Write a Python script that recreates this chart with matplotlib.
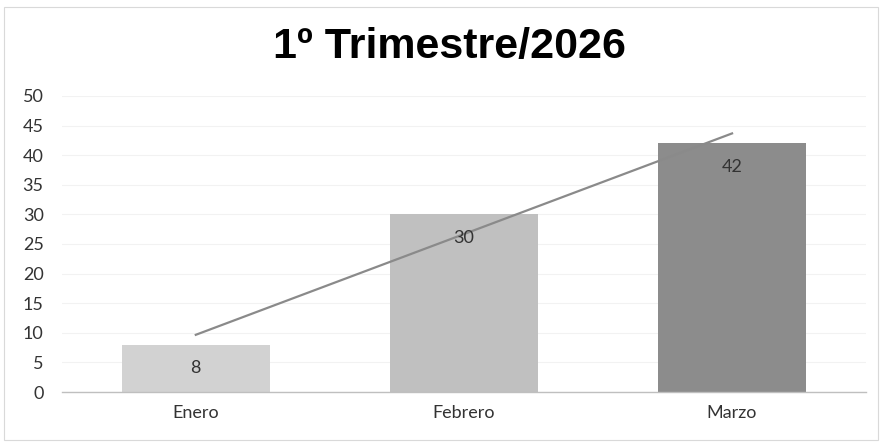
import matplotlib.pyplot as plt
import numpy as np
from matplotlib.patches import Rectangle

MONTHS = ["Enero", "Febrero", "Marzo"]
VALUES = [8, 30, 42]
BAR_COLORS = ["#d2d2d2", "#c0c0c0", "#8c8c8c"]
TITLE = "1º Trimestre/2026"
Y_TICKS = [0, 5, 10, 15, 20, 25, 30, 35, 40, 45, 50]


def main() -> None:
    plt.rcParams["font.family"] = ["Lato", "DejaVu Sans"]
    fig = plt.figure(figsize=(8.82, 4.44), dpi=100)
    ax = fig.add_axes([0.070, 0.117, 0.912, 0.667])

    x = np.arange(len(MONTHS))
    ax.bar(x, VALUES, width=0.55, color=BAR_COLORS, zorder=2)

    # linear trendline like Excel's
    slope, intercept = np.polyfit(x, VALUES, 1)
    ax.plot(x[[0, -1]], slope * x[[0, -1]] + intercept, color="#8a8a8a", linewidth=1.6, zorder=3)

    for xi, v in zip(x, VALUES):
        ax.annotate(str(v), (xi, v), xytext=(0, -17), textcoords="offset points",
                    ha="center", va="center", fontsize=13, color="#333333", zorder=4)

    ax.set_xlim(-0.5, 2.5)
    ax.set_ylim(0, 50)
    ax.set_yticks(Y_TICKS)
    ax.set_xticks(x)
    ax.set_xticklabels(MONTHS)
    ax.tick_params(axis="both", length=0, labelsize=13, colors="#333333")
    ax.tick_params(axis="x", pad=9)
    ax.tick_params(axis="y", pad=13)
    for side in ("top", "right", "left"):
        ax.spines[side].set_visible(False)
    ax.spines["bottom"].set_color("#bfbfbf")
    ax.spines["bottom"].set_linewidth(1.0)
    ax.yaxis.grid(True, color="#f2f2f2", linewidth=0.8, zorder=0)
    ax.set_axisbelow(True)

    fig.text(0.51, 0.895, TITLE, ha="center", va="center", fontsize=31,
             fontweight="bold", family=["Liberation Sans", "DejaVu Sans"])

    fig.patches.append(Rectangle((0.004, 0.01), 0.992, 0.975, transform=fig.transFigure,
                                 fill=False, edgecolor="#d9d9d9", linewidth=0.8))

    fig.savefig("out.png", dpi=100)


if __name__ == "__main__":
    main()
